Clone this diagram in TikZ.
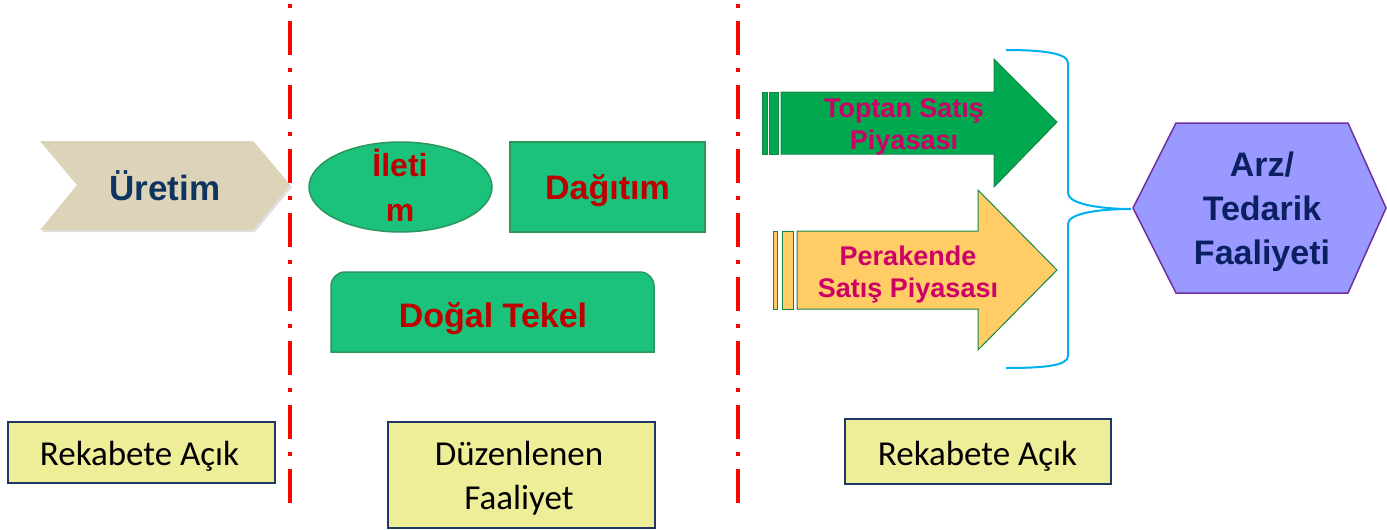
\documentclass[tikz,border=0pt]{standalone}
\usepackage{fontspec}
\usetikzlibrary{shapes.geometric}
\setmainfont{Liberation Sans}
\newfontfamily\calibri{Carlito}
\definecolor{beige}{RGB}{221,211,184}
\definecolor{navytxt}{RGB}{16,52,96}
\definecolor{lgreen}{RGB}{26,194,124}
\definecolor{lgreenb}{RGB}{44,150,92}
\definecolor{redtxt}{RGB}{192,0,0}
\definecolor{agreen}{RGB}{0,168,80}
\definecolor{agreenb}{RGB}{20,135,70}
\definecolor{magtxt}{RGB}{204,0,102}
\definecolor{aorange}{RGB}{255,204,102}
\definecolor{bblue}{RGB}{0,176,240}
\definecolor{hexfill}{RGB}{153,153,255}
\definecolor{hexline}{RGB}{112,48,160}
\definecolor{hextxt}{RGB}{10,32,96}
\definecolor{yfill}{RGB}{238,238,153}
\definecolor{yline}{RGB}{31,56,100}
\begin{document}
\begin{tikzpicture}[x=1pt,y=-1pt,
  redline/.style={draw={rgb,255:red,255;green,0;blue,0},line width=4pt,dash pattern=on 4pt off 13pt on 34pt off 13pt},
  bigtxt/.style={inner sep=0pt,align=center,font=\bfseries\fontsize{34}{43}\selectfont},
  arrtxt/.style={inner sep=0pt,align=center,text=magtxt,font=\bfseries\fontsize{27}{32}\selectfont},
  ybox/.style={draw=yline,line width=2pt,fill=yfill,inner sep=0pt},
  ytxt/.style={inner sep=0pt,align=center,font=\calibri\fontsize{35}{44}\selectfont},
  gshape/.style={draw=lgreenb,line width=1.5pt,fill=lgreen},
]
\useasboundingbox (0,0) rectangle (1387,530);

% red dash-dot separators
\coordinate (s1t) at (290,4); \coordinate (s1b) at (290,503);
\coordinate (s2t) at (738,4); \coordinate (s2b) at (738,503);
\draw[redline] (s1t) -- (s1b);
\draw[redline] (s2t) -- (s2b);

% Uretim chevron
\fill[black!25,opacity=0.5] (42,143) -- (255,143) -- (292,187) -- (255,232) -- (42,232) -- (79,187) -- cycle;
\fill[beige] (40,141) -- (253,141) -- (290,185) -- (253,230) -- (40,230) -- (77,185) -- cycle;
\node[bigtxt,text=navytxt,font=\bfseries\fontsize{35}{43}\selectfont,anchor=base] (uretim) at (165,200) {Üretim};

% Iletim ellipse
\node[gshape,ellipse,minimum width=183pt,minimum height=90pt,inner sep=0pt] (iletimshape) at (400.5,187) {};
\node[bigtxt,text=redtxt,font=\bfseries\fontsize{32}{45}\selectfont] (iletim) at (400,185.5) {İleti\\m};

% Dagitim box
\node[gshape,rectangle,minimum width=195pt,minimum height=90pt,inner sep=0pt] (dagitimshape) at (607.5,187) {};
\node[bigtxt,text=redtxt,anchor=base] (dagitim) at (607.5,199) {Dağıtım};

% Dogal Tekel
\path[gshape] (331,352) -- (331,286) arc[start angle=180,end angle=270,radius=14] -- (640,272) arc[start angle=270,end angle=360,radius=14] -- (654,352) -- cycle;
\node[bigtxt,text=redtxt,anchor=base] (tekel) at (493,327) {Doğal Tekel};

% Toptan arrow
\path[fill=agreen,draw=agreenb,line width=1pt] (762,92) rectangle (767,154);
\path[fill=agreen,draw=agreenb,line width=1pt] (769,92) rectangle (778,154);
\path[fill=agreen,draw=agreenb,line width=1pt] (781,92) -- (994,92) -- (994,59) -- (1057,122) -- (994,187) -- (994,154) -- (781,154) -- cycle;
\node[arrtxt] (toptan) at (904,127) {Toptan Satış\\Piyasası};

% Perakende arrow
\path[fill=aorange,draw=agreenb,line width=1pt] (773,231) rectangle (777,309);
\path[fill=aorange,draw=agreenb,line width=1pt] (782,231) rectangle (793,309);
\path[fill=aorange,draw=agreenb,line width=1pt] (797,231) -- (978,231) -- (978,190) -- (1057,270) -- (978,350) -- (978,309) -- (797,309) -- cycle;
\node[arrtxt] (perakende) at (908,275) {Perakende\\Satış Piyasası};

% brace
\coordinate (btop) at (1006,50);
\coordinate (bbot) at (1006,368);
\coordinate (btip) at (1131,209);
\draw[bblue,line width=2pt] (btop) .. controls (1042,50) and (1068,53) .. (1068,63) -- (1068,193) .. controls (1068,204) and (1100,209) .. (btip) .. controls (1100,209) and (1068,213) .. (1068,224) -- (1068,356) .. controls (1068,366) and (1042,368) .. (bbot);

% hexagon
\path[fill=hexfill,draw=hexline,line width=1.5pt] (1133,208) -- (1176,123) -- (1348,123) -- (1386,208) -- (1348,293) -- (1176,293) -- cycle;
\node[bigtxt,text=hextxt,font=\bfseries\fontsize{34}{44}\selectfont] (arz) at (1262,212) {Arz/\\Tedarik\\Faaliyeti};

% yellow boxes
\node[ybox,minimum width=267pt,minimum height=61pt] (y1) at (141.5,452.5) {};
\node[ytxt,anchor=base] (y1t) at (139.5,465) {Rekabete Açık};
\node[ybox,minimum width=267pt,minimum height=106pt] (y2) at (521.5,475) {};
\node[ytxt] (y2t) at (519,478) {Düzenlenen\\Faaliyet};
\node[ybox,minimum width=266pt,minimum height=65pt] (y3) at (978,451.5) {};
\node[ytxt,anchor=base] (y3t) at (977.5,465) {Rekabete Açık};
\end{tikzpicture}
\end{document}
